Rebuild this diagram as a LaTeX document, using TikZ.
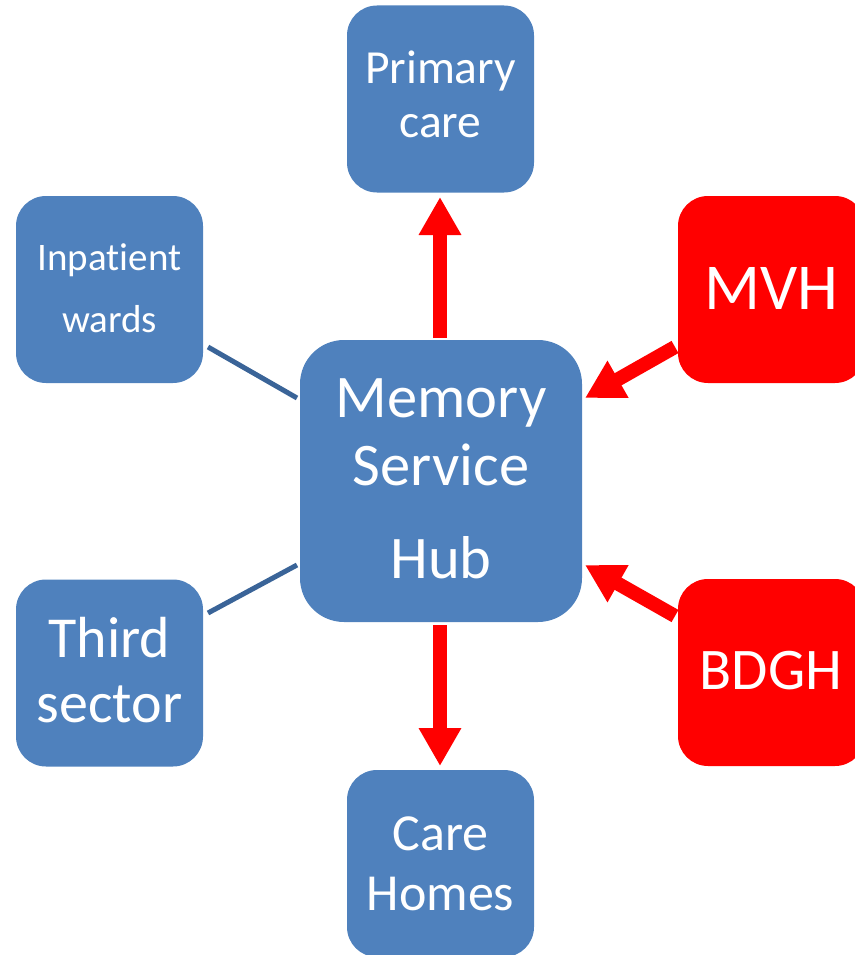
\documentclass[tikz,border=0pt]{standalone}
\usepackage{fontspec}
\setmainfont[Ligatures=NoCommon]{Carlito}
\usetikzlibrary{arrows.meta}
\definecolor{boxblue}{HTML}{4F81BD}
\definecolor{lineblue}{RGB}{58,100,152}
\definecolor{hotred}{HTML}{FF0000}
\tikzset{
  bluebox/.style={fill=boxblue, draw=none, rounded corners=30pt, minimum width=187pt, minimum height=187pt, inner sep=0pt},
  hubbox/.style={fill=boxblue, draw=none, rounded corners=44pt, minimum width=282pt, minimum height=282pt, inner sep=0pt},
  redbox/.style={fill=hotred, draw=none, rounded corners=30pt, minimum width=187pt, minimum height=187pt, inner sep=0pt},
  lbl/.style={text=white, inner sep=0pt, anchor=base},
  redarrow/.style={draw=hotred, line width=14pt, -{Triangle[width=40pt,length=38pt]}},
  blueline/.style={draw=lineblue, line width=5pt},
}
\newcommand{\fs}[1]{\fontsize{#1}{#1}\selectfont}
\begin{document}
\begin{tikzpicture}[x=1pt,y=-1pt]
\useasboundingbox (0,0) rectangle (854,955);
% boxes
\node[bluebox] (pc) at (440.5,99) {};
\node[bluebox] (ip) at (109.5,289.5) {};
\node[redbox]  (mvh) at (771.5,289.5) {};
\node[hubbox]  (hub) at (441,481) {};
\node[bluebox] (ts) at (109.5,673) {};
\node[redbox]  (bdgh) at (771.5,672.5) {};
\node[bluebox] (ch) at (440.5,863.5) {};
% labels
\node[lbl] (pc1) at (440.5,84) {\fs{47.5}Primary};
\node[lbl] (pc2) at (440.5,138) {\fs{47.5}care};
\node[lbl] (ip1) at (109.5,270) {\fs{39}Inpatient};
\node[lbl] (ip2) at (109.5,332) {\fs{39}wards};
\node[lbl] (mvh1) at (771,309) {\fs{65.5}MVH};
\node[lbl] (hub1) at (441,417) {\fs{60.5}Memory};
\node[lbl] (hub2) at (441,485) {\fs{60.5}Service};
\node[lbl] (hub3) at (441,578) {\fs{60.5}Hub};
\node[lbl] (ts1) at (109.5,657) {\fs{58}Third};
\node[lbl] (ts2) at (109.5,722) {\fs{58}sector};
\node[lbl] (bdgh1) at (771,689) {\fs{59}BDGH};
\node[lbl] (ch1) at (440.5,850) {\fs{52}Care};
\node[lbl] (ch2) at (440.5,910) {\fs{52}Homes};
% connector end points
\coordinate (mvhT) at (675,347);
\coordinate (mvhH) at (585,398);
\coordinate (bdT) at (675,616);
\coordinate (bdH) at (585,565);
\coordinate (ipA) at (208,347);
\coordinate (ipB) at (297,398);
\coordinate (tsA) at (208,613);
\coordinate (tsB) at (297,565);
\coordinate (upT) at (440,338);
\coordinate (upH) at (440,197);
\coordinate (dnT) at (440,625);
\coordinate (dnH) at (440,766);
% connectors
\draw[redarrow] (upT) -- (upH);
\draw[redarrow] (dnT) -- (dnH);
\draw[redarrow] (mvhT) -- (mvhH);
\draw[redarrow] (bdT) -- (bdH);
\draw[blueline] (ipA) -- (ipB);
\draw[blueline] (tsA) -- (tsB);
\end{tikzpicture}
\end{document}
